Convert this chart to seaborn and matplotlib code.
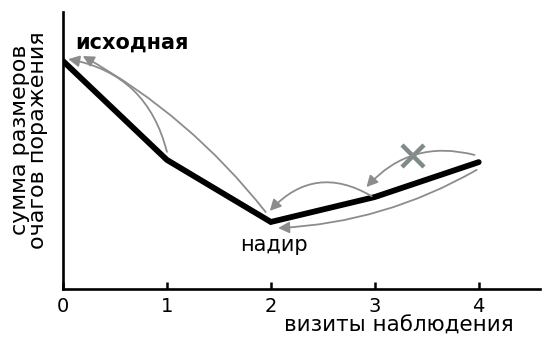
import numpy as np
import pandas as pd
import seaborn as sns
import matplotlib.pyplot as plt

# ------------------------- Data ------------------------- #
visits = [0, 1, 2, 3, 4]
lesion_sum = [8.23, 4.66, 2.42, 3.32, 4.58]

# gray comparison arrows: (tail, head, curvature)
arrow_tails = [(1.0, 4.95), (1.95, 2.78), (2.97, 3.35), (3.96, 4.84), (3.98, 4.30)]
arrow_heads = [(0.05, 8.30), (0.19, 8.41), (1.99, 2.82), (2.92, 3.68), (2.07, 2.20)]
arrow_rads = [0.32, 0.10, 0.40, 0.30, -0.12]
crossed_pos = (3.37, 4.80)

df = pd.DataFrame({"visit": visits, "sum": lesion_sum})

# ------------------------- Style ------------------------- #
sns.set_theme(style="ticks")
plt.rcParams["font.family"] = ["DejaVu Sans"]
plt.rcParams["text.color"] = "black"
plt.rcParams["xtick.color"] = "black"
plt.rcParams["xtick.labelcolor"] = "black"

fig = plt.figure(figsize=(5.46, 3.37), dpi=100)
ax = fig.add_axes([63 / 546, 1 - 289 / 337, (540 - 63) / 546, (289 - 12) / 337])

sns.lineplot(data=df, x="visit", y="sum", ax=ax, color="black", linewidth=4.2,
             solid_joinstyle="miter")

gray = "#8c8c8c"
for tail, head, rad in zip(arrow_tails, arrow_heads, arrow_rads):
    ax.annotate("", xy=head, xytext=tail,
                arrowprops=dict(arrowstyle="-|>,head_length=0.55,head_width=0.28",
                                color=gray, lw=1.3, shrinkA=0, shrinkB=0,
                                mutation_scale=12,
                                connectionstyle=f"arc3,rad={rad}"))

ax.plot(*crossed_pos, marker="x", color="#7f8a8a", markersize=16, mew=3.2)

ax.set_xlim(0, 4.59)
ax.set_ylim(0, 10)
ax.set_xticks(visits)
ax.set_xticklabels([str(v) for v in visits])
ax.set_yticks([])
ax.set_xlabel("")
ax.set_ylabel("")
ax.tick_params(axis="x", direction="in", length=5, width=1.8, labelsize=14, pad=6)
for side in ["top", "right"]:
    ax.spines[side].set_visible(False)
for side in ["left", "bottom"]:
    ax.spines[side].set_linewidth(1.9)
    ax.spines[side].set_color("black")

# ------------------------- Text ------------------------- #
fig.text(132 / 546, 1 - 43 / 337, "исходная", fontsize=15, fontweight="bold",
         ha="center", va="center")
fig.text(274 / 546, 1 - 245 / 337, "надир", fontsize=15, ha="center", va="center")
fig.text(399 / 546, 1 - 326 / 337, "визиты наблюдения", fontsize=15.5,
         ha="center", va="center")
fig.text(29 / 546, 1 - 140 / 337, "сумма размеров\nочагов поражения", fontsize=16,
         rotation=90, ha="center", va="center", multialignment="center",
         linespacing=0.9)

plt.savefig("out.png", dpi=100)
plt.close()
